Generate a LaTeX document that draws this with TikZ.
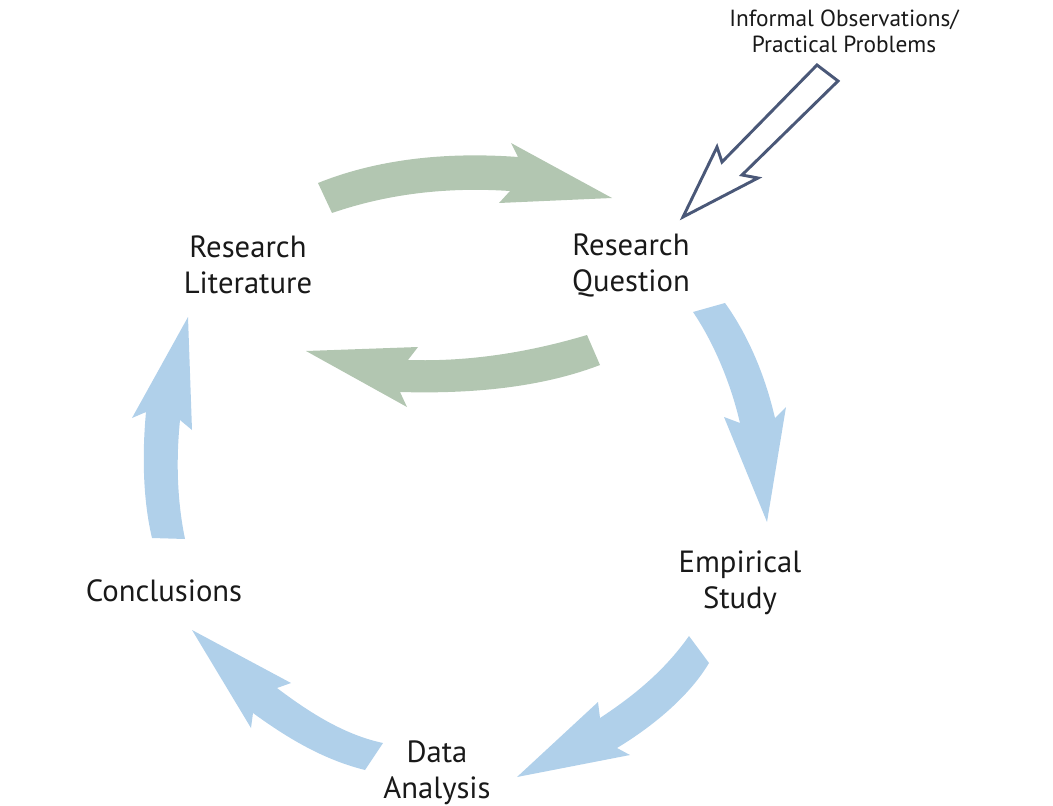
\documentclass[tikz,border=0pt]{standalone}
\usepackage{fontspec}
\setmainfont{PT Sans}
\definecolor{cgreen}{HTML}{B2C6B1}
\definecolor{cblue}{HTML}{B0D0EA}
\definecolor{cslate}{HTML}{4A5878}
\begin{document}
\begin{tikzpicture}[x=0.75pt,y=-0.75pt,
  lbl/.style={align=center,font=\fontsize{23}{27}\selectfont,text=black!90,inner sep=0pt},
  small/.style={align=center,font=\fontsize{17.5}{19.5}\selectfont,text=black!90,inner sep=0pt},
  garrow/.style={fill=cgreen,draw=none},
  barrow/.style={fill=cblue,draw=none},
  oarrow/.style={draw=cslate,line width=2.2pt,fill=white,line join=miter}]
\useasboundingbox (0,0) rectangle (1053,806);
% green arrow to the right
\path[garrow] (318,183) .. controls (380,158) and (450,152) .. (518,157)
  -- (511,143) -- (612,198) -- (499,203) -- (510,191)
  .. controls (450,187) and (390,193) .. (332,213) -- cycle;
% green arrow to the left
\path[garrow] (587,335) .. controls (530,352) and (470,362) .. (408,360)
  -- (418,347) -- (306,351) -- (407,407) -- (400,392)
  .. controls (470,394) and (540,388) .. (600,365) -- cycle;
% blue: question -> empirical
\path[barrow] (693,312) .. controls (712,340) and (730,380) .. (740,423)
  -- (724,417) -- (767,522) -- (786,407) -- (775,418)
  .. controls (765,375) and (748,335) .. (725,303) -- cycle;
% blue: empirical -> data analysis
\path[barrow] (689,636) .. controls (665,670) and (635,695) .. (600,718)
  -- (598,702) -- (517,777) -- (630,755) -- (617,748)
  .. controls (655,725) and (690,695) .. (709,663) -- cycle;
% blue: data analysis -> conclusions
\path[barrow] (383,743) .. controls (345,735) and (310,713) .. (277,688)
  -- (291,683) -- (192,630) -- (251,728) -- (253,713)
  .. controls (290,740) and (325,760) .. (365,770) -- cycle;
% blue: conclusions -> literature
\path[barrow] (152,538) .. controls (143,500) and (142,455) .. (146,412)
  -- (132,418) -- (188,317) -- (192,430) -- (180,420)
  .. controls (176,460) and (177,500) .. (185,539) -- cycle;
% open arrow
\draw[oarrow] (817,65) -- (722,162) -- (717,147) -- (683,217) -- (758,178) -- (742,175) -- (838,81) -- cycle;
% labels
\node[lbl] (lit) at (248,265) {Research\\Literature};
\node[lbl] (rq) at (631,265) {Research\\Question};
\node[lbl] (emp) at (740,583) {Empirical\\Study};
\node[lbl] (concl) at (164,591) {Conclusions};
\node[lbl] (data) at (437,773) {Data\\Analysis};
\node[small] (inf) at (844,31) {Informal Observations/\\Practical Problems};
\end{tikzpicture}
\end{document}
